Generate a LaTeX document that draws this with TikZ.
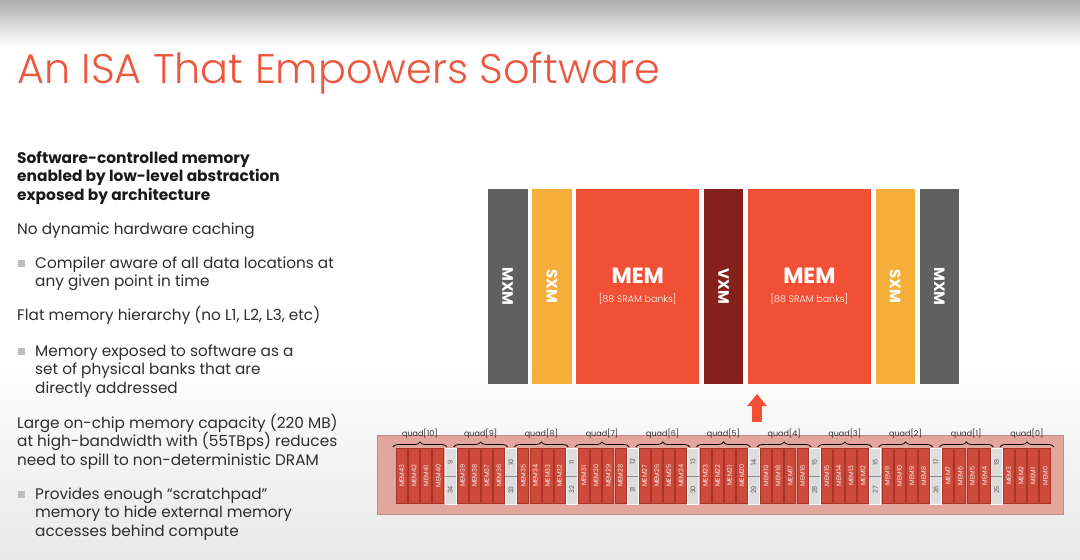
\documentclass[tikz,border=0pt]{standalone}
\usepackage{fontspec}
\setmainfont{Poppins}
\newfontfamily\titlefont{Poppins Light}
\usetikzlibrary{positioning,arrows.meta,decorations.pathreplacing}
\definecolor{TitleRed}{RGB}{236,88,62}
\definecolor{MxmGray}{RGB}{96,96,96}
\definecolor{SxmYellow}{RGB}{246,174,58}
\definecolor{MemRed}{RGB}{241,80,52}
\definecolor{VxmDark}{RGB}{133,32,26}
\definecolor{StripPink}{RGB}{226,166,156}
\definecolor{StripEdge}{RGB}{190,138,130}
\definecolor{BankRed}{RGB}{206,74,58}
\definecolor{BankEdge}{RGB}{168,52,42}
\definecolor{GapGray}{RGB}{221,221,221}
\definecolor{TextDark}{RGB}{45,45,45}
\definecolor{BulletGray}{RGB}{190,190,190}
\tikzset{
  titletext/.style={anchor=base west,inner sep=0pt,text=TitleRed,
    font=\titlefont\fontsize{41.4}{41.4}\selectfont},
  % base anchor of a multi-line node sits on its last line
  headtext/.style={anchor=base west,inner sep=0pt,align=left,text=black!90,
    font=\bfseries\fontsize{15.4}{18.5}\selectfont},
  bodytext/.style={anchor=base west,inner sep=0pt,align=left,text=TextDark,
    font=\fontsize{15.3}{18.5}\selectfont},
  bulletsq/.style={fill=BulletGray,minimum size=7pt,inner sep=0pt},
  lane/.style={inner sep=0pt,outer sep=0pt,minimum height=195pt,text=white},
  mxmbar/.style={lane,fill=MxmGray,minimum width=39.5pt,
    font=\bfseries\fontsize{15}{15}\selectfont},
  sxmbar/.style={lane,fill=SxmYellow,minimum width=39.5pt,
    font=\bfseries\fontsize{15}{15}\selectfont},
  vxmbar/.style={lane,fill=VxmDark,minimum width=39.5pt,
    font=\bfseries\fontsize{15}{15}\selectfont},
  membar/.style={lane,fill=MemRed,minimum width=123pt,align=center,
    font=\bfseries\fontsize{22}{20}\selectfont},
  strip/.style={fill=StripPink,draw=StripEdge,line width=0.8pt,
    minimum width=686pt,minimum height=79pt,inner sep=0pt},
  bank/.style={anchor=north west,fill=BankRed,draw=BankEdge,line width=0.5pt,
    minimum width=11pt,minimum height=55pt,inner sep=0pt,text=white!92!BankRed,
    font=\fontsize{6.5}{6.5}\selectfont},
  gapcell/.style={anchor=north west,fill=GapGray,draw=white!92!GapGray,line width=0.5pt,
    minimum width=11pt,minimum height=27.5pt,inner sep=0pt,text=black!65,
    font=\fontsize{6.5}{6.5}\selectfont},
  gapline/.style={draw=black!45,line width=0.8pt},
  quadbrace/.style={draw=black,line width=0.8pt,
    decorate,decoration={brace,amplitude=5pt}},
  quadlabel/.style={midway,above=8pt,inner sep=0pt,text=TextDark,
    font=\fontsize{8}{8}\selectfont},
  uparrow/.style={draw=MemRed,line width=10pt,
    -{Triangle[width=19pt,length=12pt]},shorten >=10pt}
}
\newcommand{\banksnote}{{\titlefont\mdseries\fontsize{9.5}{10}\selectfont[88 SRAM banks]}}

\begin{document}
\begin{tikzpicture}[x=1pt,y=-1pt,node distance=4.6pt]
  \useasboundingbox (0,0) rectangle (1080,560);
  % backdrop
  \fill[white] (0,0) rectangle (1080,560);
  \shade[top color=black!32,bottom color=white] (0,0) rectangle (1080,46);
  \shade[top color=white,bottom color=black!9] (0,360) rectangle (1080,560);

  % title
  \node[titletext] (title) at (17,83) {An ISA That Empowers Software};

  % left column
  \node[headtext] (head) at (17,200) {Software-controlled memory\\enabled by low-level abstraction\\exposed by architecture};
  \node[bodytext] (p1) at (17,234) {No dynamic hardware caching};
  \node[bulletsq] (s1) at (21.5,263) {};
  \node[bodytext] (p1a) at (35,286.5) {Compiler aware of all data locations at\\any given point in time};
  \node[bodytext] (p2) at (17,320.5) {Flat memory hierarchy (no L1, L2, L3, etc)};
  \node[bulletsq] (s2) at (21.5,351) {};
  \node[bodytext] (p2a) at (35,393) {Memory exposed to software as a\\set of physical banks that are\\directly addressed};
  \node[bodytext] (p3) at (17,465) {Large on-chip memory capacity (220 MB)\\at high-bandwidth with (55TBps) reduces\\need to spill to non-deterministic DRAM};
  \node[bulletsq] (s3) at (21.5,494) {};
  \node[bodytext] (p3a) at (35,536) {Provides enough “scratchpad”\\memory to hide external memory\\accesses behind compute};

  % functional slices
  \node[mxmbar,anchor=north west] (mxmL) at (488,189) {\rotatebox{-90}{MXM}};
  \node[sxmbar,right=of mxmL] (sxmL) {\rotatebox{-90}{SXM}};
  \node[membar,right=of sxmL] (memL) {MEM\\[-1pt]\banksnote};
  \node[vxmbar,right=of memL] (vxm) {\rotatebox{-90}{VXM}};
  \node[membar,right=of vxm] (memR) {MEM\\[-1pt]\banksnote};
  \node[sxmbar,right=of memR] (sxmR) {\rotatebox{-90}{SXM}};
  \node[mxmbar,right=of sxmR] (mxmR) {\rotatebox{-90}{MXM}};

  % SRAM bank strip
  \node[strip,anchor=north west] (strip) at (377,435) {};
  \foreach \g in {0,...,10}{
    \pgfmathtruncatemacro{\q}{10-\g}
    \pgfmathtruncatemacro{\first}{43-4*\g}
    \pgfmathtruncatemacro{\last}{40-4*\g}
    \foreach \k in {0,...,3}{
      \pgfmathtruncatemacro{\m}{43-4*\g-\k}
      \node[bank] (mem\m) at ({396+(5*\g+\k)*12.14},448) {\rotatebox{90}{MEM\m}};
    }
    \draw[quadbrace] ([shift={(-3pt,1pt)}]mem\first.north west) -- ([shift={(3pt,1pt)}]mem\last.north east)
      node[quadlabel] {quad[\q]};
  }
  \foreach \g in {0,...,9}{
    \pgfmathtruncatemacro{\up}{9+\g}
    \pgfmathtruncatemacro{\dn}{34-\g}
    \node[gapcell] (gapT\g) at ({396+(5*\g+4)*12.14},448) {\rotatebox{90}{\up}};
    \node[gapcell,below=0pt of gapT\g] (gapB\g) {\rotatebox{90}{\dn}};
    \draw[gapline] (gapT\g.south west) -- (gapT\g.south east);
  }

  % access arrow
  \coordinate (arrowfoot) at (757,422);
  \draw[uparrow] (arrowfoot) -- (arrowfoot |- memR.south);
\end{tikzpicture}
\end{document}
